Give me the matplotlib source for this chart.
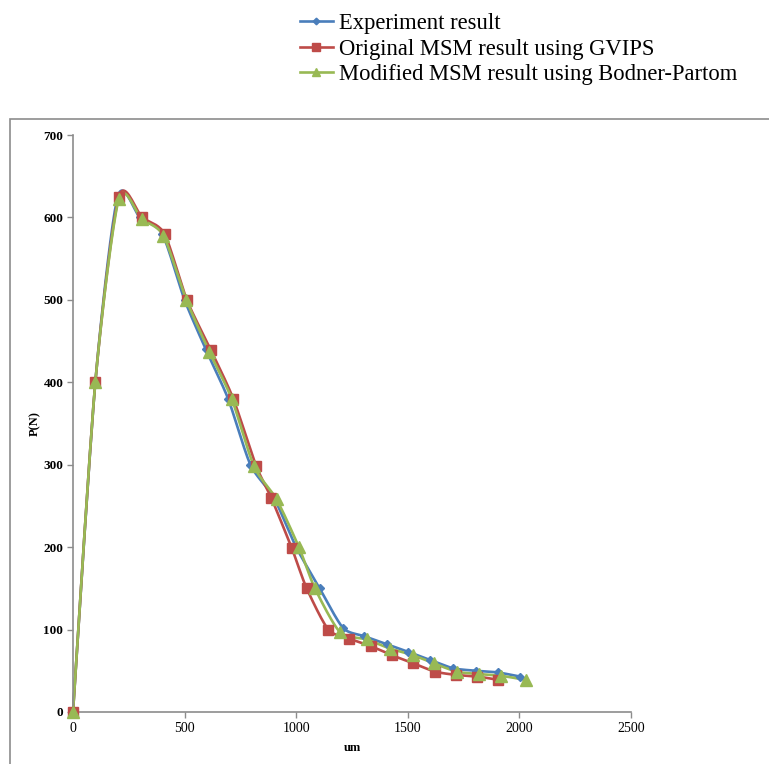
import numpy as np
import matplotlib.pyplot as plt
from matplotlib.patches import Rectangle
from matplotlib.lines import Line2D

# measured load P(N) against displacement um
exp_x = [0, 100, 200, 300, 400, 500, 595, 695, 795, 900, 1000, 1105, 1210,
         1305, 1408, 1502, 1600, 1704, 1806, 1903, 2003]
exp_y = [0, 400, 625, 600, 580, 500, 440, 380, 300, 260, 200, 150, 102,
         92, 82, 73, 63, 53, 50, 48, 43]

gvips_x = [0, 100, 205, 310, 410, 510, 618, 718, 820, 888, 980, 1047, 1144,
           1238, 1333, 1428, 1525, 1622, 1716, 1812, 1906]
gvips_y = [0, 400, 625, 600, 580, 500, 439, 380, 299, 260, 199, 150, 100,
           89, 80, 69, 59, 49, 45, 43, 39]

bp_x = [0, 100, 205, 308, 405, 508, 611, 711, 811, 912, 1012, 1084, 1196,
        1316, 1420, 1522, 1617, 1719, 1819, 1916, 2028]
bp_y = [0, 400, 622, 598, 578, 500, 437, 380, 298, 258, 200, 150, 97,
        88, 77, 69, 59, 49, 46, 44, 39]

labels = ["Experiment result",
          "Original MSM result using GVIPS",
          "Modified MSM result using Bodner-Partom"]
colors = ["#4A7EBB", "#BE4B48", "#98B954"]
markers = ["D", "s", "^"]
msizes = [4.5, 7, 8]


def smooth(x, y, n=20, k=0.75):
    # cardinal spline through the points (k scales the tangents)
    p = np.column_stack([x, y]).astype(float)
    p = np.vstack([p[0], p, p[-1]])
    t = np.linspace(0, 1, n, endpoint=False)[:, None]
    h00 = 2 * t ** 3 - 3 * t ** 2 + 1
    h10 = t ** 3 - 2 * t ** 2 + t
    h01 = -2 * t ** 3 + 3 * t ** 2
    h11 = t ** 3 - t ** 2
    out = []
    for i in range(1, len(p) - 2):
        p0, p1, p2, p3 = p[i - 1], p[i], p[i + 1], p[i + 2]
        m1 = k * 0.5 * (p2 - p0)
        m2 = k * 0.5 * (p3 - p1)
        out.append(h00 * p1 + h10 * m1 + h01 * p2 + h11 * m2)
    out.append(p[-2][None, :])
    out = np.vstack(out)
    return out[:, 0], out[:, 1]


fig = plt.figure(figsize=(7.69, 7.64), dpi=100)
fig.patches.append(Rectangle((10 / 769, -0.05), 1.0, (764 - 119) / 764 + 0.05,
                             transform=fig.transFigure, fill=False,
                             edgecolor="#8c8c8c", lw=1.2))

ax = fig.add_axes([73 / 769, 52 / 764, 558 / 769, 577 / 764])
series = [(exp_x, exp_y), (gvips_x, gvips_y), (bp_x, bp_y)]
for (sx, sy), c, m, ms in zip(series, colors, markers, msizes):
    lx, ly = smooth(sx, sy)
    ax.plot(lx, ly, color=c, lw=1.9, zorder=2, clip_on=False)
    ax.plot(sx, sy, ls="none", marker=m, ms=ms, color=c, mec=c, zorder=3,
            clip_on=False)

ax.set_xlim(0, 2500)
ax.set_ylim(0, 700)
ax.set_xticks(range(0, 2501, 500))
ax.set_yticks(range(0, 701, 100))
for s in ["top", "right"]:
    ax.spines[s].set_visible(False)
for s in ["left", "bottom"]:
    ax.spines[s].set_color("#8c8c8c")
    ax.spines[s].set_linewidth(1.2)
ax.tick_params(direction="out", length=4, color="#8c8c8c", width=1.0, pad=3)
for lab in ax.get_xticklabels():
    lab.set_family("Liberation Serif")
    lab.set_fontsize(10)
for lab in ax.get_yticklabels():
    lab.set_family("Liberation Serif")
    lab.set_fontweight("bold")
    lab.set_fontsize(9.5)

ax.set_xlabel("um", family="Liberation Serif", fontweight="bold",
              fontsize=9, labelpad=5)
ax.set_ylabel("P(N)", family="Liberation Serif", fontweight="bold",
              fontsize=9, labelpad=2)

handles = [Line2D([], [], color=c, lw=1.9, marker=m, ms=ms * 0.75, mec=c)
           for c, m, ms in zip(colors, markers, msizes)]
fig.legend(handles, labels, loc="upper left", bbox_to_anchor=(291 / 769, 1 - 4 / 764),
           frameon=False, prop={"family": "Liberation Serif", "size": 16.3},
           handlelength=1.45, handletextpad=0.25, labelspacing=0.2,
           borderaxespad=0)

fig.savefig("out.png", dpi=100)
